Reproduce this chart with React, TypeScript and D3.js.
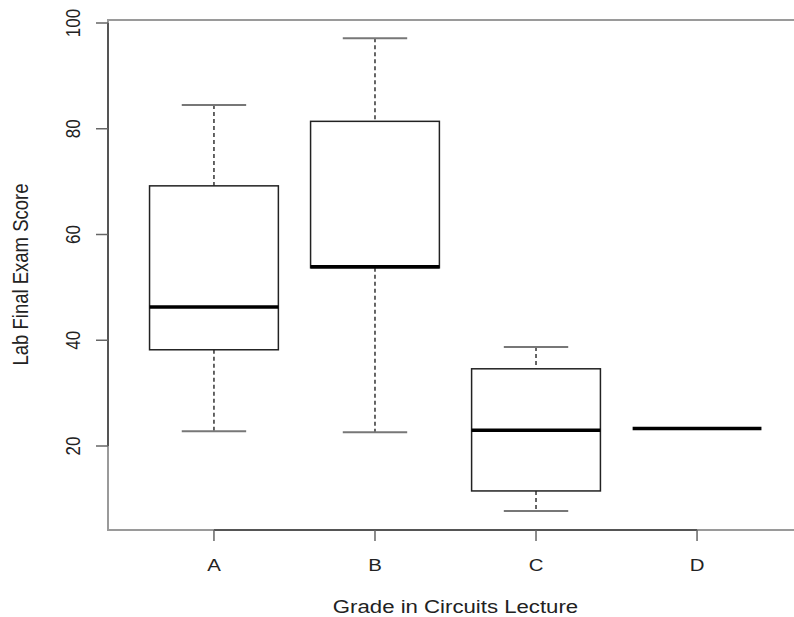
import React from 'react';
import * as d3 from 'd3';

const categories = ['A', 'B', 'C', 'D'];
const lowerWhisker = [22.8, 22.6, 7.7, 23.3];
const q1 = [38.2, 53.7, 11.5, 23.3];
const median = [46.3, 53.9, 23.0, 23.3];
const q3 = [69.2, 81.4, 34.6, 23.3];
const upperWhisker = [84.5, 97.1, 38.7, 23.3];
const yTicks = [20, 40, 60, 80, 100];

const W = 794;
const H = 617;
const plotLeft = 108;
const plotTop = 20;
const plotBottom = 530;
const plotRight = 803;

export default function App() {
  const x = d3.scaleLinear().domain([0.342, 4.658]).range([plotLeft, plotRight]);
  const y = d3.scaleLinear().domain([20, 100]).range([446, 23]);
  const unit = x(2) - x(1);
  const boxHalf = unit * 0.4;
  const capHalf = boxHalf / 2;
  const font = '"Liberation Sans", Arial, sans-serif';
  const sx = 1.2;

  return (
    <svg
      width={W}
      height={H}
      style={{ position: 'absolute', left: 0, top: 0, background: '#fff' }}
    >
      <rect x={0} y={0} width={W} height={H} fill="#fff" />
      {/* plot box */}
      <rect
        x={plotLeft}
        y={plotTop}
        width={plotRight - plotLeft}
        height={plotBottom - plotTop}
        fill="none"
        stroke="#9a9a9a"
        strokeWidth={2}
      />
      {/* y axis */}
      <line x1={plotLeft} x2={plotLeft} y1={y(100)} y2={y(20)} stroke="#555" strokeWidth={2} />
      {yTicks.map((t) => (
        <g key={t}>
          <line x1={plotLeft - 12} x2={plotLeft} y1={y(t)} y2={y(t)} stroke="#666" strokeWidth={1.5} />
          <text
            transform={`translate(80,${y(t)}) scale(${sx},1) rotate(-90)`}
            textAnchor="middle"
            fontFamily={font}
            fontSize={17}
            fill="#222"
          >
            {t}
          </text>
        </g>
      ))}
      {/* x axis */}
      <line x1={x(1)} x2={x(4)} y1={plotBottom} y2={plotBottom} stroke="#555" strokeWidth={2} />
      {categories.map((c, i) => (
        <g key={c}>
          <line x1={x(i + 1)} x2={x(i + 1)} y1={plotBottom} y2={plotBottom + 11} stroke="#666" strokeWidth={1.5} />
          <text
            transform={`translate(${x(i + 1)},571) scale(${sx},1)`}
            textAnchor="middle"
            fontFamily={font}
            fontSize={17}
            fill="#222"
          >
            {c}
          </text>
        </g>
      ))}
      {/* boxes */}
      {categories.map((c, i) => {
        const cx = x(i + 1);
        const degenerate = q1[i] === q3[i] && lowerWhisker[i] === upperWhisker[i];
        return (
          <g key={'b' + c}>
            {!degenerate && (
              <>
                <line x1={cx} x2={cx} y1={y(upperWhisker[i])} y2={y(q3[i])} stroke="#333" strokeWidth={1.5} strokeDasharray="4,3" />
                <line x1={cx} x2={cx} y1={y(q1[i])} y2={y(lowerWhisker[i])} stroke="#333" strokeWidth={1.5} strokeDasharray="4,3" />
                <line x1={cx - capHalf} x2={cx + capHalf} y1={y(upperWhisker[i])} y2={y(upperWhisker[i])} stroke="#777" strokeWidth={2} />
                <line x1={cx - capHalf} x2={cx + capHalf} y1={y(lowerWhisker[i])} y2={y(lowerWhisker[i])} stroke="#777" strokeWidth={2} />
                <rect
                  x={cx - boxHalf}
                  y={y(q3[i])}
                  width={boxHalf * 2}
                  height={y(q1[i]) - y(q3[i])}
                  fill="none"
                  stroke="#222"
                  strokeWidth={1.5}
                />
              </>
            )}
            <line x1={cx - boxHalf} x2={cx + boxHalf} y1={y(median[i])} y2={y(median[i])} stroke="#000" strokeWidth={3.5} />
          </g>
        );
      })}
      {/* axis titles */}
      <text
        transform={`translate(${(x(1) + x(4)) / 2},613) scale(1.2,1)`}
        textAnchor="middle"
        fontFamily={font}
        fontSize={18.5}
        fill="#222"
      >
        Grade in Circuits Lecture
      </text>
      <text
        transform={`translate(28,274.5) scale(1.2,1) rotate(-90)`}
        textAnchor="middle"
        fontFamily={font}
        fontSize={18.5}
        fill="#222"
      >
        Lab Final Exam Score
      </text>
    </svg>
  );
}
